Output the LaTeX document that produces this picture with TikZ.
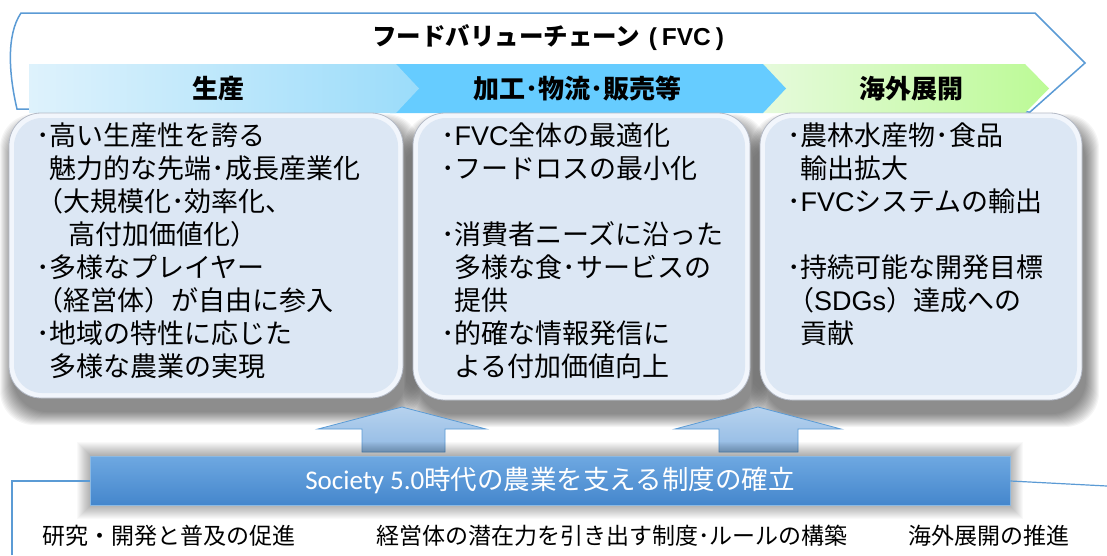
\documentclass[tikz,border=0pt]{standalone}
\usepackage{fontspec}
\setmainfont{Noto Sans CJK JP}
\newfontfamily\carl{Carlito}
\newfontfamily\arl{Liberation Sans}
\usetikzlibrary{calc}
\definecolor{ol}{RGB}{91,155,213}
\definecolor{bal}{RGB}{222,242,252}
\definecolor{bar}{RGB}{155,220,250}
\definecolor{bbm}{RGB}{102,204,255}
\definecolor{bcl}{RGB}{230,250,220}
\definecolor{bcr}{RGB}{188,250,150}
\definecolor{boxfill}{RGB}{220,231,244}
\definecolor{boxring}{RGB}{242,246,252}
\definecolor{boxedge}{RGB}{180,186,198}
\definecolor{arrtop}{RGB}{182,210,238}
\definecolor{arrbot}{RGB}{146,186,228}
\definecolor{soctop}{RGB}{110,168,225}
\definecolor{socbot}{RGB}{68,134,204}
\newcommand\boxshadow[4]{%
  \foreach \i in {0,1,...,13}{%
    \fill[black,opacity=0.04,rounded corners=34pt] ({#1-\i+4},{#2-\i+14}) rectangle ({#3+\i+4},{#4+\i+14});
  }}
\newcommand\roundbox[4]{%
  \filldraw[boxedge,fill=boxring,line width=0.8pt,rounded corners=32pt] (#1,#2) rectangle (#3,#4);
  \fill[boxfill,rounded corners=28pt] ({#1+5},{#2+5}) rectangle ({#3-5},{#4-5});
}
\begin{document}
\begin{tikzpicture}[x=1pt,y=-1pt,
  body/.style={inner sep=0pt,align=left,anchor=north west,font=\fontsize{27pt}{33pt}\selectfont},
  bandlabel/.style={inner sep=0pt,font=\fontsize{26pt}{30pt}\selectfont\bfseries},
  bottomlabel/.style={inner sep=0pt,anchor=west,font=\fontsize{23pt}{26pt}\selectfont},
  blockarrow/.style={draw=ol,line width=0.8pt,top color=arrtop,bottom color=arrbot}]
\useasboundingbox (0,0) rectangle (1107,555);
\fill[white] (0,0) rectangle (1107,555);
% value chain outline
\draw[ol,line width=1.5pt,line join=miter] (21,13) -- (1035,13) -- (1085,63) -- (1030,112) -- (17,109)
  .. controls (9,75) and (6,35) .. (21,13) -- cycle;
\node[inner sep=0pt,font=\fontsize{24.5pt}{28pt}\selectfont\bfseries] (title) at (548,38) {フードバリューチェーン{\arl\bfseries\kern0.35em(\kern0.2em FVC\kern0.2em)}};
% band segments
\path[left color=bcl,right color=bcr] (760,64) -- (1025,64) -- (1049,88.5) -- (1025,113) -- (760,113) -- cycle;
\fill[bbm] (390,64) -- (763,64) -- (786,88.5) -- (763,113) -- (390,113) -- cycle;
\path[left color=bal,right color=bar] (29,64) -- (396,64) -- (419,88.5) -- (396,113) -- (29,113) -- cycle;
\node[bandlabel] (seisan) at (218,89) {生産};
\node[bandlabel] (kako) at (577,89) {加工･物流･販売等};
\node[bandlabel] (kaigai) at (911,89) {海外展開};
% shadows of boxes
\boxshadow{9}{113}{403}{398}
\boxshadow{413}{113}{750}{400}
\boxshadow{760}{113}{1082}{400}
% boxes
\roundbox{9}{113}{403}{398}
\roundbox{413}{113}{750}{400}
\roundbox{760}{113}{1082}{400}
\node[body] (t1) at (36,123) {･高い生産性を誇る\\
\hspace{0.5em}魅力的な先端･成長産業化\\
（大規模化･効率化、\\
\hspace{1.2em}高付加価値化）\\
･多様なプレイヤー\\
（経営体）が自由に参入\\
･地域の特性に応じた\\
\hspace{0.5em}多様な農業の実現};
\node[body] (t2) at (441,123) {･{\arl FVC}全体の最適化\\
･フードロスの最小化\\[33pt]
･消費者ニーズに沿った\\
\hspace{0.5em}多様な食･サービスの\\
\hspace{0.5em}提供\\
･的確な情報発信に\\
\hspace{0.5em}よる付加価値向上};
\node[body] (t3) at (787,123) {･農林水産物･食品\\
\hspace{0.5em}輸出拡大\\
･{\arl FVC}システムの輸出\\[33pt]
･持続可能な開発目標\\
（{\arl SDGs}）達成への\\
\hspace{0.5em}貢献};
% up arrows
\path[blockarrow] (362,452) -- (362,429) -- (318,429) -- (402,407) -- (486,429) -- (445,429) -- (445,452) -- cycle;
\path[blockarrow] (719,452) -- (719,429) -- (675,429) -- (758,407) -- (841,429) -- (798,429) -- (798,452) -- cycle;
% society box glow
\foreach \i in {0,1,...,13}{
  \fill[black,opacity=0.025] ({90-\i},{455-\i}) rectangle ({1010+\i},{506+\i});
}
\node[draw=ol!70,line width=0.8pt,top color=soctop,bottom color=socbot,minimum width=920pt,minimum height=49pt,inner sep=0pt,
  text=white,font=\fontsize{26.5pt}{30pt}\selectfont] (soc) at (550,481) {{\carl\fontsize{27pt}{30pt}\selectfont Society 5.0}時代の農業を支える制度の確立};
% bottom bracket
\coordinate (bl) at (12,555);
\coordinate (br) at (1107,486);
\draw[ol,line width=1.2pt] (bl) |- (soc.west);
\draw[ol,line width=1.2pt] (soc.east) -- (br);
\node[bottomlabel] (l1) at (42,536) {研究・開発と普及の促進};
\node[bottomlabel] (l2) at (376,536) {経営体の潜在力を引き出す制度･ルールの構築};
\node[bottomlabel] (l3) at (908,536) {海外展開の推進};
\end{tikzpicture}
\end{document}
